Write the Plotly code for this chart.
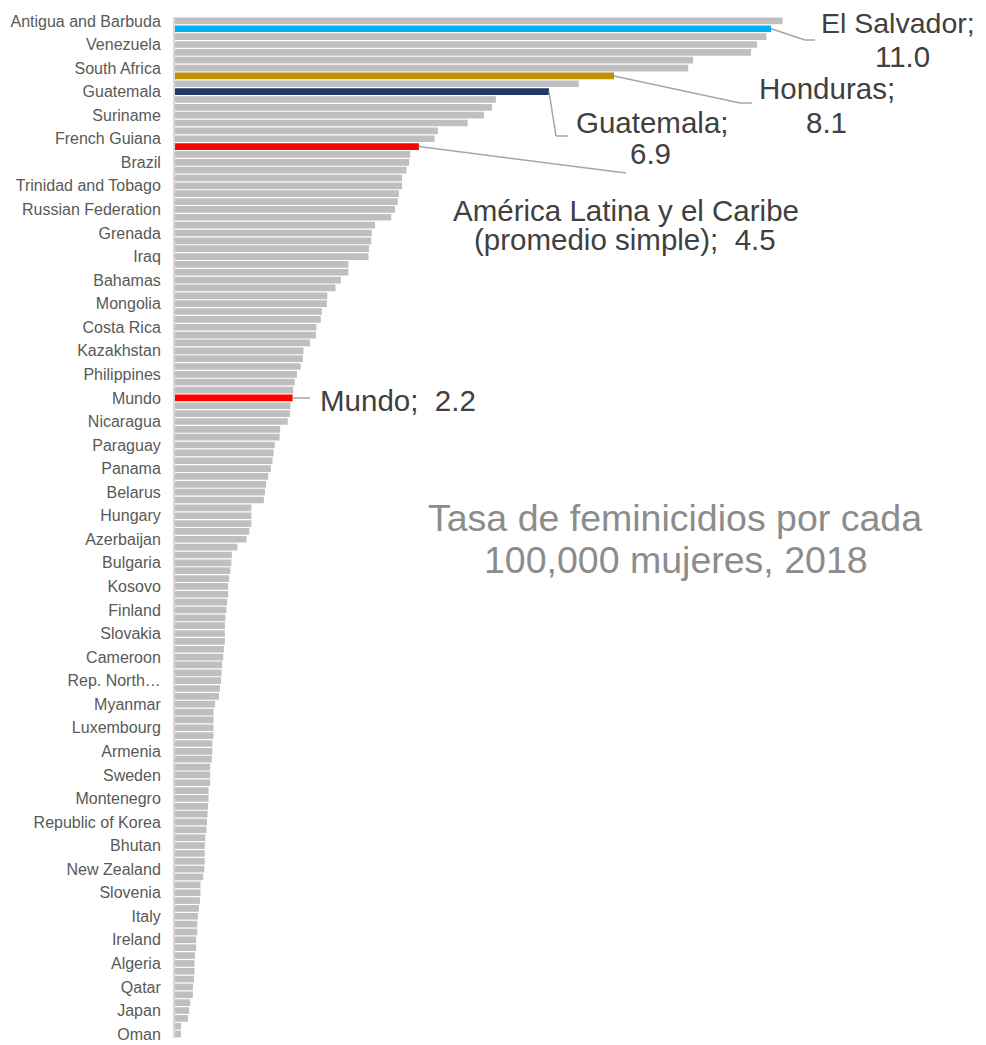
import plotly.graph_objects as go

countries = [
    "Antigua and Barbuda", "El Salvador", "Jamaica", "Venezuela", "Saint Kitts and Nevis", "Belize",
    "South Africa", "Honduras", "Guyana", "Guatemala", "Saint Lucia", "Colombia",
    "Suriname", "Bolivia", "Mexico", "French Guiana", "América Latina y el Caribe (promedio simple)", "Dominican Republic",
    "Brazil", "Puerto Rico", "Barbados", "Trinidad and Tobago", "Saint Vincent and the Grenadines", "Uruguay",
    "Russian Federation", "Ecuador", "Lithuania", "Grenada", "Latvia", "Peru",
    "Iraq", "Argentina", "Ukraine", "Bahamas", "Moldova", "Kyrgyzstan",
    "Mongolia", "Chile", "Estonia", "Costa Rica", "Cuba", "Georgia",
    "Kazakhstan", "Martinique", "Guadeloupe", "Philippines", "India", "United States",
    "Mundo", "Turkey", "Albania", "Nicaragua", "France", "Bermuda",
    "Paraguay", "Uzbekistan", "Tajikistan", "Panama", "Israel", "Croatia",
    "Belarus", "Portugal", "Romania", "Hungary", "Poland", "Serbia",
    "Azerbaijan", "Germany", "Australia", "Bulgaria", "Czech Republic", "Bosnia and Herzegovina",
    "Kosovo", "Canada", "Austria", "Finland", "Belgium", "Cyprus",
    "Slovakia", "United Kingdom", "Denmark", "Cameroon", "Netherlands", "Malta",
    "Rep. North Macedonia", "Switzerland", "Norway", "Myanmar", "Spain", "Greece",
    "Luxembourg", "Iceland", "Lebanon", "Armenia", "Jordan", "Morocco",
    "Sweden", "Tunisia", "Egypt", "Montenegro", "Kuwait", "Saudi Arabia",
    "Republic of Korea", "Bahrain", "Maldives", "Bhutan", "Brunei Darussalam", "Sri Lanka",
    "New Zealand", "Indonesia", "Singapore", "Slovenia", "Malaysia", "Thailand",
    "Italy", "Viet Nam", "Nepal", "Ireland", "Pakistan", "Bangladesh",
    "Algeria", "China", "Hong Kong", "Qatar", "United Arab Emirates", "Macao",
    "Japan", "Liechtenstein", "San Marino", "Oman",
]

values = [
    11.21, 11.0, 10.91, 10.74, 10.63, 9.56,
    9.47, 8.1, 7.45, 6.9, 5.92, 5.85,
    5.70, 5.40, 4.85, 4.79, 4.5, 4.34,
    4.32, 4.27, 4.19, 4.19, 4.13, 4.11,
    4.06, 3.99, 3.69, 3.63, 3.62, 3.58,
    3.57, 3.20, 3.20, 3.06, 2.96, 2.81,
    2.80, 2.71, 2.69, 2.61, 2.60, 2.49,
    2.37, 2.36, 2.32, 2.25, 2.21, 2.18,
    2.17, 2.13, 2.12, 2.08, 1.94, 1.93,
    1.84, 1.82, 1.80, 1.77, 1.72, 1.68,
    1.66, 1.64, 1.41, 1.41, 1.41, 1.37,
    1.32, 1.15, 1.05, 1.04, 1.02, 1.00,
    0.98, 0.98, 0.96, 0.95, 0.93, 0.92,
    0.92, 0.92, 0.90, 0.89, 0.87, 0.86,
    0.85, 0.83, 0.81, 0.74, 0.71, 0.71,
    0.71, 0.71, 0.69, 0.69, 0.68, 0.65,
    0.65, 0.65, 0.62, 0.62, 0.61, 0.60,
    0.59, 0.58, 0.56, 0.55, 0.55, 0.55,
    0.54, 0.52, 0.47, 0.47, 0.46, 0.44,
    0.42, 0.41, 0.41, 0.39, 0.39, 0.37,
    0.36, 0.36, 0.35, 0.33, 0.33, 0.28,
    0.26, 0.24, 0.11, 0.11,
]

# tick labels shown (every third bar)
tick_vals = countries[::3]
tick_text = ["Rep. North…" if c == "Rep. North Macedonia" else c for c in tick_vals]

highlight = {
    "El Salvador": "#00b0f0",
    "Honduras": "#bf9000",
    "Guatemala": "#1f3864",
    "América Latina y el Caribe (promedio simple)": "#ff0000",
    "Mundo": "#ff0000",
}
colors = [highlight.get(c, "#bfbfbf") for c in countries]

# page body has an 8px margin; compensate so the plot sits where the reference's does
OFF = 8
W, H = 978, 1037
ML, MR, MT, MB = 175 - OFF, 0, 17 - OFF, 7
PW, PH = W - ML - MR, H - MT - MB
XMAX = PW / 54.2
N = len(countries)

def px2x(px):          # absolute screen px -> x data
    return (px - OFF - ML) / PW * XMAX

def py2p(py):          # absolute screen px -> paper y
    return 1 - (py - OFF - MT) / PH

def idx2p(i):
    return 1 - (i + 0.5) / N

fig = go.Figure(go.Bar(
    x=values, y=countries, orientation="h",
    marker=dict(color=colors, line=dict(width=0)),
    hoverinfo="x+y",
))

LINE = dict(color="#a6a6a6", width=1.5)
shapes = []
def leader(name, pts):
    i = countries.index(name)
    x0, y0 = values[i], idx2p(i)
    for (px, py) in pts:
        x1, y1 = px2x(px), py2p(py)
        shapes.append(dict(type="line", xref="x", yref="paper", x0=x0, y0=y0, x1=x1, y1=y1, line=LINE))
        x0, y0 = x1, y1

leader("El Salvador", [(805, 40), (815, 40)])
leader("Honduras", [(740, 103), (752, 103)])
leader("Guatemala", [(556, 136), (568, 136)])
leader("América Latina y el Caribe (promedio simple)", [(626, 173)])
leader("Mundo", [(310, 398)])

FONT = "Liberation Sans, Arial, sans-serif"
anns = []
def label(text, px, py, size=29.5, color="#404040", xanchor="center"):
    anns.append(dict(text=text, xref="x", yref="paper", x=px2x(px), y=py2p(py),
                     xanchor=xanchor, yanchor="middle", showarrow=False,
                     font=dict(family=FONT, size=size, color=color)))

def v(name):
    return f"{values[countries.index(name)]:.1f}"

label("El Salvador;", 898, 23, size=28.5)
label(v("El Salvador"), 902, 57)
label("Honduras;", 827, 89)
label(v("Honduras"), 826, 122)
label("Guatemala;", 652, 122)
label(v("Guatemala"), 650, 153)
label("América Latina y el Caribe", 626, 210)
label("(promedio simple);\u00a0 " + v("América Latina y el Caribe (promedio simple)"), 625, 240)
label("Mundo;\u00a0 " + v("Mundo"), 318, 400, xanchor="left")
label("Tasa de feminicidios por cada", 675, 518, size=37.5, color="#8c8c8c")
label("100,000 mujeres, 2018", 676, 560, size=37.5, color="#8c8c8c")

fig.update_layout(
    width=W, height=H,
    margin=dict(l=ML, r=MR, t=MT, b=MB, pad=0, autoexpand=False),
    paper_bgcolor="white", plot_bgcolor="white",
    bargap=0.15,
    showlegend=False,
    shapes=shapes,
    annotations=anns,
    xaxis=dict(range=[0, XMAX], visible=False, fixedrange=True, automargin=False),
    yaxis=dict(
        type="category", autorange="reversed", automargin=False,
        tickmode="array", tickvals=tick_vals, ticktext=tick_text,
        tickfont=dict(family=FONT, size=16, color="#595959"),
        ticks="outside", ticklen=9, tickcolor="rgba(0,0,0,0)",
        showline=True, linecolor="#d9d9d9", linewidth=2,
        showgrid=False, zeroline=False, fixedrange=True,
    ),
)

fig.write_html("out.html")
